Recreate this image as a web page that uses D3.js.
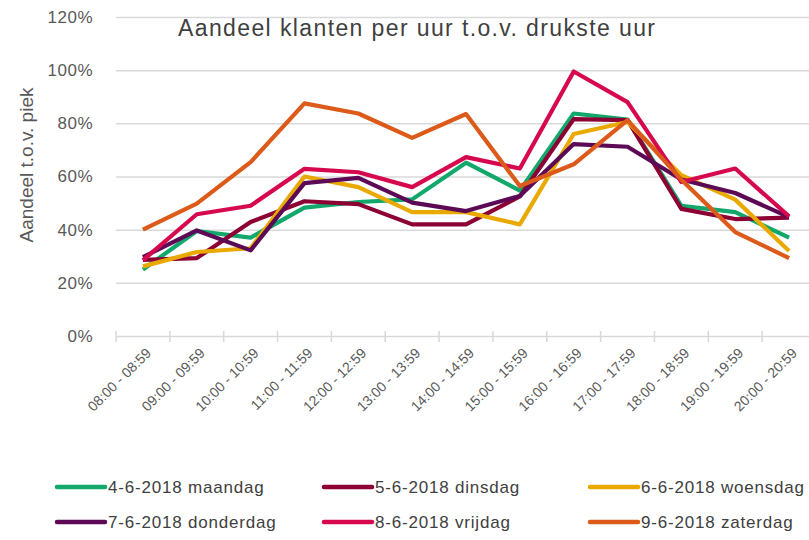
<!DOCTYPE html>
<html>
<head>
    <script src="https://d3js.org/d3.v7.min.js"></script>
    <style>
        body { margin: 0; background: #fff; }
        text { font-family: "Liberation Sans", Arial, sans-serif; }
    </style>
</head>
<body>
    <svg width="809" height="540"></svg>

    <script>
        // Hour slots on the x axis
        const hours = ["08:00 - 08:59", "09:00 - 09:59", "10:00 - 10:59", "11:00 - 11:59",
            "12:00 - 12:59", "13:00 - 13:59", "14:00 - 14:59", "15:00 - 15:59",
            "16:00 - 16:59", "17:00 - 17:59", "18:00 - 18:59", "19:00 - 19:59", "20:00 - 20:59"];

        // Share of customers per hour vs. the busiest hour (%), one list per day
        const maandag   = [25.0, 39.5, 37.0, 48.3, 50.4, 51.4, 65.2, 54.7, 83.7, 81.4, 49.0, 46.6, 37.0];
        const dinsdag   = [28.6, 29.3, 42.9, 50.7, 49.6, 42.0, 42.0, 52.5, 81.6, 81.2, 47.8, 44.0, 44.5];
        const woensdag  = [26.2, 31.6, 33.0, 60.0, 56.0, 46.6, 46.6, 42.0, 76.0, 80.5, 60.5, 51.3, 32.0];
        const donderdag = [29.7, 39.7, 32.2, 57.5, 59.5, 50.2, 47.0, 52.7, 72.2, 71.2, 58.9, 53.8, 44.7];
        const vrijdag   = [28.5, 45.8, 49.0, 62.9, 61.6, 56.0, 67.3, 63.0, 99.5, 88.0, 57.9, 63.0, 45.0];
        const zaterdag  = [40.0, 49.8, 65.4, 87.5, 83.7, 74.5, 83.5, 56.4, 64.6, 81.2, 58.8, 39.1, 29.3];

        const seriesNames = ["4-6-2018 maandag", "5-6-2018 dinsdag", "6-6-2018 woensdag",
            "7-6-2018 donderdag", "8-6-2018 vrijdag", "9-6-2018 zaterdag"];
        const seriesValues = [maandag, dinsdag, woensdag, donderdag, vrijdag, zaterdag];
        const yTicks = [0, 20, 40, 60, 80, 100, 120];

        const colors = ["#12a86b", "#8c0034", "#eaa900", "#5c0a55", "#d6094f", "#dc5a1a"];

        const svg = d3.select("svg");
        const plotLeft = 116, plotRight = 816, plotTop = 17, plotBottom = 336;

        const x = d3.scaleBand().domain(hours).range([plotLeft, plotRight]).padding(0);
        const y = d3.scaleLinear().domain([0, 120]).range([plotBottom, plotTop]);

        // Horizontal gridlines
        svg.append("g")
            .attr("transform", `translate(${plotLeft},0)`)
            .call(d3.axisLeft(y).tickValues(yTicks).tickSize(-(plotRight - plotLeft)).tickFormat(""))
            .call(g => g.select(".domain").remove())
            .call(g => g.selectAll("line").attr("stroke", "#d9d9d9").attr("stroke-width", 1.5));

        // Y tick labels
        svg.append("g")
            .attr("transform", `translate(${plotLeft - 20},0)`)
            .call(d3.axisLeft(y).tickValues(yTicks).tickSize(0).tickFormat(d => d + "%"))
            .call(g => g.select(".domain").remove())
            .call(g => g.selectAll("text")
                .attr("fill", "#595959")
                .attr("font-size", "17px")
                .attr("letter-spacing", "0.5px"));

        // Tick marks on the category boundaries
        const edges = hours.map(h => x(h)).concat([plotRight]);
        svg.append("g").selectAll("line")
            .data(edges)
            .enter()
            .append("line")
            .attr("x1", d => d).attr("x2", d => d)
            .attr("y1", plotBottom - 5).attr("y2", plotBottom + 6)
            .attr("stroke", "#d9d9d9")
            .attr("stroke-width", 1.5);

        // X labels, rotated
        svg.append("g")
            .attr("transform", `translate(0,${plotBottom})`)
            .call(d3.axisBottom(x).tickSize(0).tickFormat(d => d))
            .call(g => g.select(".domain").remove())
            .call(g => g.selectAll("text")
                .attr("fill", "#595959")
                .attr("font-size", "14px")
                .attr("text-anchor", "end")
                .attr("dy", null)
                .attr("y", 0)
                .attr("transform", "translate(9,18) rotate(-45)"));

        // Lines
        const line = d3.line()
            .x((d, i) => x(hours[i]) + x.bandwidth() / 2)
            .y(d => y(d));

        svg.append("g").selectAll("path")
            .data(seriesValues)
            .enter()
            .append("path")
            .attr("d", d => line(d))
            .attr("fill", "none")
            .attr("stroke", (d, i) => colors[i])
            .attr("stroke-width", 4.2)
            .attr("stroke-linejoin", "round");

        // Title
        svg.append("text")
            .attr("x", 178)
            .attr("y", 36)
            .attr("fill", "#404040")
            .attr("font-size", "23px")
            .attr("textLength", 477)
            .attr("lengthAdjust", "spacing")
            .text("Aandeel klanten per uur t.o.v. drukste uur");

        // Y axis title
        svg.append("text")
            .attr("transform", "translate(33,165) rotate(-90)")
            .attr("text-anchor", "middle")
            .attr("fill", "#595959")
            .attr("font-size", "19px")
            .text("Aandeel t.o.v. piek");

        // Legend
        const legendCols = [55, 322, 588];
        const legendRows = [487, 522];
        const legend = svg.append("g").selectAll("g")
            .data(seriesNames)
            .enter()
            .append("g")
            .attr("transform", (d, i) => `translate(${legendCols[i % 3]},${legendRows[Math.floor(i / 3)]})`);

        legend.append("line")
            .attr("x1", 2).attr("x2", 50)
            .attr("y1", 0).attr("y2", 0)
            .attr("stroke", (d, i) => colors[i])
            .attr("stroke-width", 4.5)
            .attr("stroke-linecap", "round");

        legend.append("text")
            .attr("x", 53)
            .attr("y", 6)
            .attr("fill", "#404040")
            .attr("font-size", "17px")
            .attr("letter-spacing", "0.8px")
            .text(d => d);
    </script>
</body>
</html>
